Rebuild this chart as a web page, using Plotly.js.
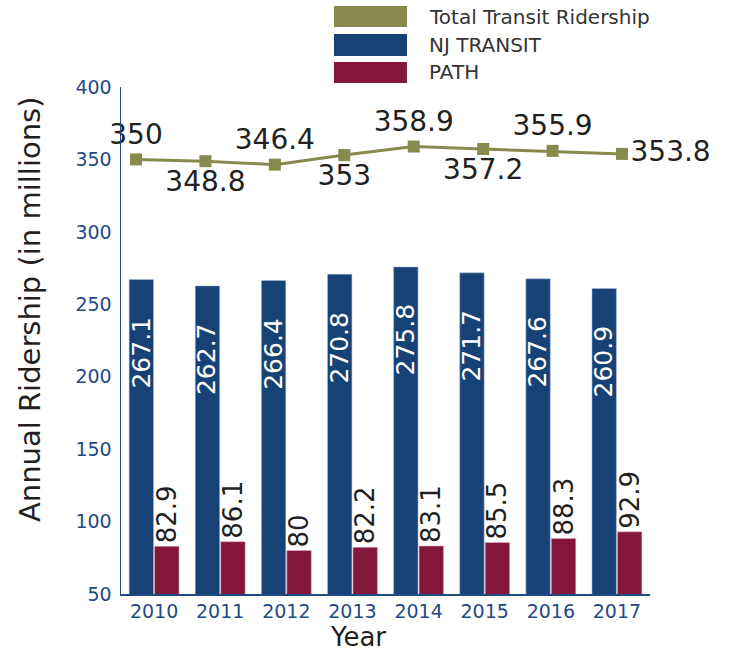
<!DOCTYPE html>
<html>
<head>
<meta charset="utf-8">
<script src="https://cdn.plot.ly/plotly-3.0.1.min.js"></script>
<style>html,body{margin:0;padding:0;background:#fff;}#chart{width:733px;height:651px;}</style>
</head>
<body>
<div id="chart"></div>
<script>
const years = ['2010','2011','2012','2013','2014','2015','2016','2017'];
const njTransit = [267.1, 262.7, 266.4, 270.8, 275.8, 271.7, 267.6, 260.9];
const path = [82.9, 86.1, 80, 82.2, 83.1, 85.5, 88.3, 92.9];
const total = [350, 348.8, 346.4, 353, 358.9, 357.2, 355.9, 353.8];
const seriesNames = ['Total Transit Ridership', 'NJ TRANSIT', 'PATH'];
const seriesColors = ['#878a4c', '#174275', '#83163b'];
const yTicks = [50, 100, 150, 200, 250, 300, 350, 400];

const FONT = 'DejaVu Sans, sans-serif';
const AXIS_BLUE = '#1f4a86';
const TEXT_DARK = '#231f20';

const totalPos = ['top center','bottom center','top center','bottom center','top center','bottom center','top center','middle right'];

const traces = [
  {
    type: 'bar', name: seriesNames[1], x: years, y: njTransit,
    marker: {color: seriesColors[1], line: {color: 'rgba(170,190,220,0.7)', width: 0.8}},
    hoverinfo: 'x+y'
  },
  {
    type: 'bar', name: seriesNames[2], x: years, y: path,
    marker: {color: seriesColors[2], line: {color: 'rgba(220,170,190,0.7)', width: 0.8}},
    text: path.map(String), textposition: 'outside', textangle: -90,
    constraintext: 'none', cliponaxis: false,
    textfont: {family: FONT, size: 26, color: TEXT_DARK}
  },
  {
    type: 'scatter', mode: 'lines+markers+text', name: seriesNames[0],
    x: years, y: total, xaxis: 'x2', yaxis: 'y',
    line: {color: seriesColors[0], width: 3},
    marker: {symbol: 'square', size: 12, color: seriesColors[0]},
    text: total.map(String), textposition: totalPos, cliponaxis: false,
    textfont: {family: FONT, size: 28, color: TEXT_DARK}
  }
];

// NJ TRANSIT value labels, placed on the category index of each year
const annotations = njTransit.map((v, i) => ({
  x: i, y: v, xref: 'x', yref: 'y',
  text: String(v), textangle: -90, showarrow: false,
  xanchor: 'center', yanchor: 'top', xshift: -13, yshift: -35,
  font: {family: FONT, size: 25, color: '#ffffff'}
}));

// axis titles
annotations.push({
  xref: 'paper', yref: 'paper', x: -0.172, y: 0.562,
  text: 'Annual Ridership (in millions)', textangle: -90, showarrow: false,
  xanchor: 'center', yanchor: 'middle',
  font: {family: FONT, size: 29, color: TEXT_DARK}
});
annotations.push({
  xref: 'paper', yref: 'paper', x: 0.448, y: -0.084,
  text: 'Year', showarrow: false, xanchor: 'center', yanchor: 'middle',
  font: {family: FONT, size: 26, color: TEXT_DARK}
});

// custom legend
const legendOrder = [0, 1, 2];
const rowY = [[1.1598, 1.1183], [1.1045, 1.0611], [1.0493, 1.0079]];
const shapes = [];
legendOrder.forEach((s, r) => {
  shapes.push({
    type: 'rect', xref: 'paper', yref: 'paper',
    x0: 0.4026, x1: 0.5406, y0: rowY[r][1], y1: rowY[r][0],
    fillcolor: seriesColors[s], line: {width: 0}
  });
  annotations.push({
    xref: 'paper', yref: 'paper', x: 0.5784, y: (rowY[r][0] + rowY[r][1]) / 2,
    text: seriesNames[s], showarrow: false, xanchor: 'left', yanchor: 'middle',
    font: {family: FONT, size: 20, color: '#333333'}
  });
});

const layout = {
  width: 733, height: 651,
  margin: {l: 121, r: 83, t: 87, b: 57},
  paper_bgcolor: '#ffffff', plot_bgcolor: '#ffffff',
  showlegend: false,
  barmode: 'group', bargap: 0.23, bargroupgap: 0.04,
  font: {family: FONT, color: TEXT_DARK},
  xaxis: {
    type: 'category', range: [-0.5, 7.5],
    showline: true, linecolor: AXIS_BLUE, linewidth: 1.5,
    ticks: '', showgrid: false, zeroline: false,
    tickfont: {family: FONT, size: 19, color: AXIS_BLUE}
  },
  xaxis2: {
    type: 'category', overlaying: 'x', range: [-0.216, 7.403],
    visible: false, showgrid: false
  },
  yaxis: {
    range: [50, 400], tickvals: yTicks, ticktext: yTicks.map(String),
    showline: true, linecolor: AXIS_BLUE, linewidth: 1.5,
    ticks: '', showgrid: false, zeroline: false, ticklabelstandoff: 4,
    tickfont: {family: FONT, size: 19, color: AXIS_BLUE}
  },
  annotations: annotations,
  shapes: shapes
};

Plotly.newPlot('chart', traces, layout, {displayModeBar: false, staticPlot: true});
</script>
</body>
</html>
